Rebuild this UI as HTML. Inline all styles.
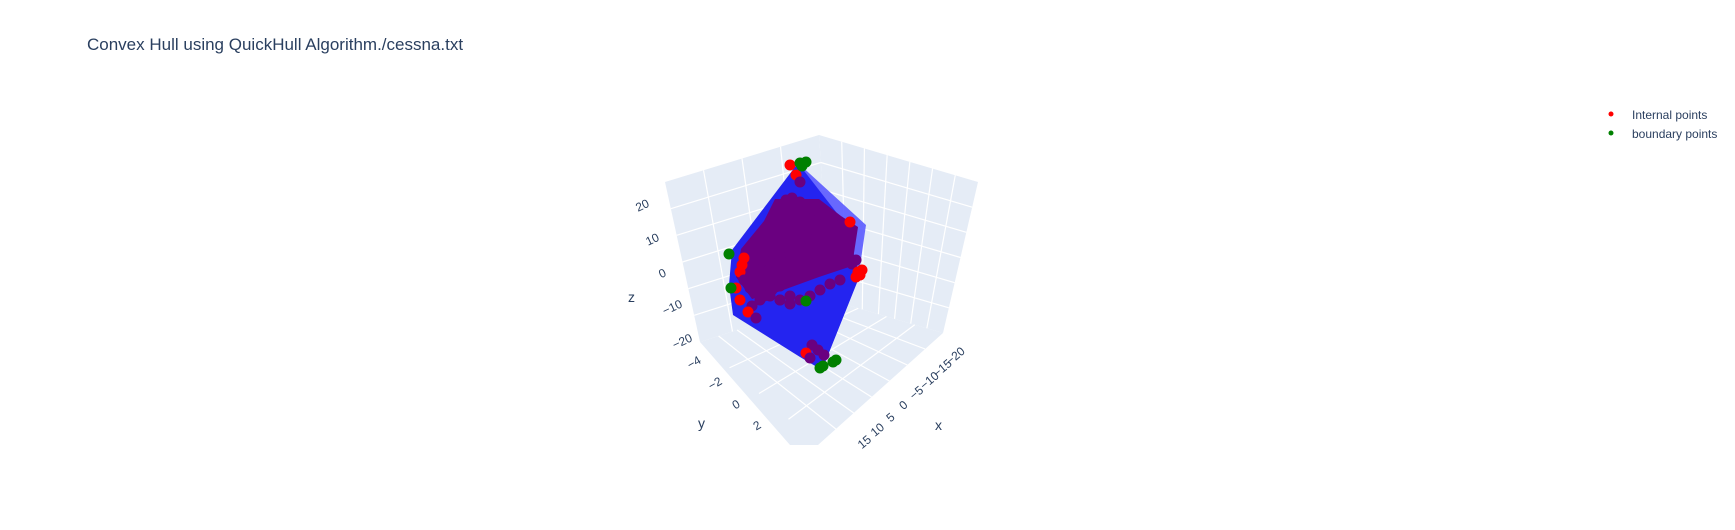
<!DOCTYPE html>
<html><head><meta charset="utf-8"><style>
body{margin:0;background:#fff;font-family:"Liberation Sans",sans-serif;}
svg text{font-family:"Liberation Sans",sans-serif;fill:#2a3f5f;}
</style></head><body>
<svg width="1735" height="525" xmlns="http://www.w3.org/2000/svg">
<text x="87" y="50" font-size="17">Convex Hull using QuickHull Algorithm./cessna.txt</text>
<g id="scene">
 <polygon points="665,182 819,135 830,300 700,342" fill="#e5ecf6"/>
 <polygon points="819,135 978,182 943,333 830,300" fill="#e5ecf6"/>
 <polygon points="700,342 830,300 943,333 818,445 790,445" fill="#e5ecf6"/>
 <g id="grid" stroke="#fff" stroke-width="1.2" fill="none"></g>
 <polygon points="798,163 866,225 858,280 822,370" fill="#5a5aff" opacity="0.9"/>
 <polygon points="798,163 850,230 858,280 822,370 800,357 733,315 729,285 732,250" fill="#2424f0"/>
 <polygon points="775,199 819,199 841,216 858,227 852,266 819,277 775,293 752,299 736,277 741,249 764,221" fill="#6a0080"/>
 <g id="pts"></g>
</g>
<g id="ticks" font-size="12"></g>
<text x="628" y="302" font-size="14">z</text>
<text x="698" y="428" font-size="14">y</text>
<text x="935" y="430" font-size="14">x</text>
<g>
 <g><circle cx="1611" cy="114" r="2.5" fill="red"/><text x="1632" y="119" font-size="12">Internal points</text></g>
 <g><circle cx="1611" cy="133" r="2.5" fill="green"/><text x="1632" y="138" font-size="12">boundary points</text></g>
</g>
</svg>
<script>
const zTicks=["20","10","0","−10","−20"];
const yTicks=["−4","−2","0","2"];
const xTicks=["−20","−15","−10","−5","0","5","10","15"];
const internalX=[790,796,800,782,786,792,800,808,814,820,826,832,838,844,850,780,770,760,752,746,742,740,744,750,760,770,780,790,800,810,820,830,840,760,770,780,790,800,810,750,760,770,790,800,810,820,830,800,806,812,760,752,748,756,764,772,780,788,796,842,852,858,862,856,744,736,740,856,860,812,818,824,806,810,780,790];
const internalY=[165,175,182,205,200,198,202,208,210,214,218,222,226,228,222,225,232,240,250,258,265,272,280,288,292,296,300,304,300,296,290,284,280,270,262,256,250,244,240,280,270,262,254,264,272,266,262,228,236,244,300,306,312,318,296,290,286,282,278,252,264,272,270,260,258,288,300,277,275,345,350,355,353,358,300,296];
const internalC=["r","r","p","p","p","p","p","p","p","p","p","p","p","p","r","p","p","p","p","p","r","r","p","p","p","p","p","p","p","p","p","p","p","p","p","p","p","p","p","p","p","p","p","p","p","p","p","p","p","p","p","p","r","p","p","p","p","p","p","p","p","r","r","p","r","r","r","r","r","p","p","p","r","p","p","p"];
const boundX=[800,806,802,729,731,820,823,836,833,806];
const boundY=[163,162,166,254,288,368,366,360,362,301];
const ns="http://www.w3.org/2000/svg";
function mk(t,a,p){const e=document.createElementNS(ns,t);for(const k in a)e.setAttribute(k,a[k]);p.appendChild(e);return e;}
const grid=document.getElementById('grid');
function lerp(a,b,t){return [a[0]+(b[0]-a[0])*t,a[1]+(b[1]-a[1])*t];}
function gridQuad(A,B,C,D,n,m){for(let i=1;i<n;i++){const p=lerp(A,B,i/n),q=lerp(D,C,i/n);mk('line',{x1:p[0],y1:p[1],x2:q[0],y2:q[1]},grid);}for(let j=1;j<m;j++){const p=lerp(A,D,j/m),q=lerp(B,C,j/m);mk('line',{x1:p[0],y1:p[1],x2:q[0],y2:q[1]},grid);}}
gridQuad([665,182],[819,135],[830,300],[700,342],4,6);
gridQuad([819,135],[978,182],[943,333],[830,300],7,6);
gridQuad([700,342],[830,300],[943,333],[818,445],7,4);
const pts=document.getElementById('pts');
for(let i=0;i<internalX.length;i++){
 const c=mk('circle',{cx:internalX[i],cy:internalY[i],r:5.5,fill:internalC[i]==="r"?"red":"#6a0080"},pts);
 
 
}
for(let i=0;i<boundX.length;i++){
 const c=mk('circle',{cx:boundX[i],cy:boundY[i],r:5.5,fill:"green"},pts);
 
 
}
const tk=document.getElementById('ticks');
function tick(txt,x,y,name,rot){const t=mk('text',{x:x,y:y,transform:`rotate(${rot} ${x} ${y})`,'text-anchor':'middle'},tk);t.textContent=txt;}
zTicks.forEach((v,i)=>tick(v,644+i*10,209+i*34,'z-tick-label',-25));
yTicks.forEach((v,i)=>tick(v,696+i*21,366+i*21,'y-tick-label',-30));
xTicks.forEach((v,i)=>tick(v,958-i*13,359+i*12.3,'x-tick-label',-40));
</script>
</body></html>
